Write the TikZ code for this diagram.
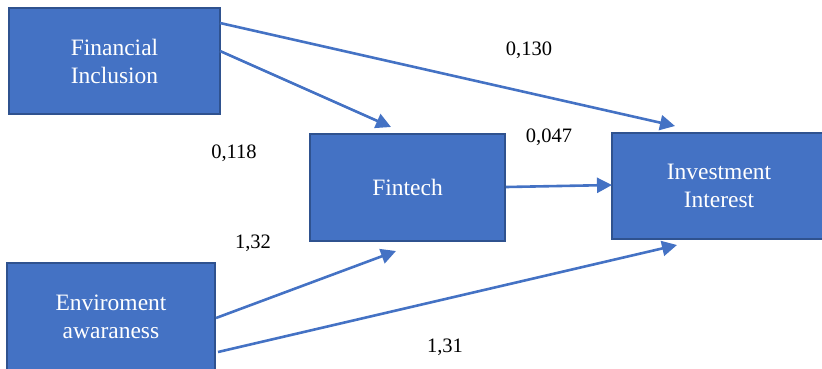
\documentclass[tikz,border=0pt]{standalone}
\usepackage{fontspec}
\setmainfont{Liberation Serif}
\usetikzlibrary{arrows.meta}
\definecolor{boxfill}{HTML}{4472C4}
\definecolor{boxline}{HTML}{2F528F}
\begin{document}
\begin{tikzpicture}[x=1pt,y=-1pt,
  box/.style={draw=boxline,line width=2pt,fill=boxfill,text=white,align=center,
    font=\fontsize{23.5}{28}\selectfont,inner sep=0pt},
  conn/.style={draw=boxfill,line width=2.6pt,-{Triangle[length=15pt,width=15pt]}},
  lab/.style={font=\fontsize{20.5}{22}\selectfont,inner sep=0pt}]
\useasboundingbox (0,0) rectangle (822,368);
\node[box,minimum width=211pt,minimum height=106pt] (fi) at (114.5,61) {Financial\\Inclusion};
\node[box,minimum width=195pt,minimum height=107pt] (ft) at (407.5,187) {Fintech};
\node[box,minimum width=214pt,minimum height=106pt] (ii) at (719,185.5) {Investment\\Interest};
\node[box,minimum width=208pt,minimum height=108pt] (ea) at (111,317) {Enviroment\\awaraness};
\coordinate (fiA) at (220,23);
\coordinate (fiB) at (220,51);
\coordinate (iiT) at (675,126);
\coordinate (ftT) at (391,127);
\coordinate (ftR) at (506,187);
\coordinate (iiL) at (612,185);
\coordinate (eaA) at (216,318);
\coordinate (eaB) at (218,352);
\coordinate (ftB) at (396,251);
\coordinate (iiB) at (677,245);
\draw[conn] (fiA) -- (iiT);
\draw[conn] (fiB) -- (ftT);
\draw[conn] (ftR) -- (iiL);
\draw[conn] (eaA) -- (ftB);
\draw[conn] (eaB) -- (iiB);
\node[lab] (l1) at (529,50) {0,130};
\node[lab] (l2) at (234,153) {0,118};
\node[lab] (l3) at (549,137) {0,047};
\node[lab] (l4) at (253,243) {1,32};
\node[lab] (l5) at (445,347) {1,31};
\end{tikzpicture}
\end{document}
